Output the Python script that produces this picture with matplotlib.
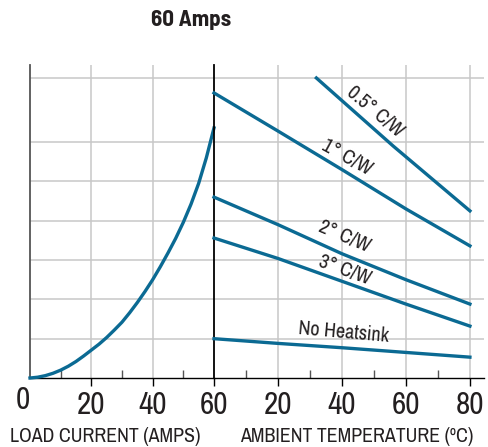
import matplotlib
matplotlib.use('Agg')
import matplotlib.pyplot as plt

plt.rcParams['font.family'] = ['Archivo Narrow', 'Roboto', 'DejaVu Sans']

# left panel: load current vs dissipation (arbitrary units, 1 unit = one grid row)
amps = [0, 2.5, 5, 7.5, 10, 12.5, 15, 17.5, 20, 22.5, 25, 27.5, 30, 32.5, 35,
        37.5, 40, 42.5, 45, 47.5, 50, 52.5, 55, 57.5, 60]
power = [0, 0.02, 0.06, 0.12, 0.2, 0.3, 0.42, 0.56, 0.71, 0.86, 1.03, 1.22,
         1.42, 1.66, 1.92, 2.2, 2.5, 2.83, 3.18, 3.55, 3.96, 4.42, 4.95, 5.6, 6.36]

# right panel: ambient temperature vs allowed dissipation
temps = [0, 20, 40, 60, 80]
half_x = [32, 56, 80]
half_y = [7.63, 5.9, 4.25]
one_cw = [7.25, 6.28, 5.3, 4.3, 3.36]
two_cw = [4.6, 3.9, 3.16, 2.5, 1.88]
three_cw = [3.56, 3.04, 2.46, 1.88, 1.32]
no_sink = [1.0, 0.88, 0.77, 0.65, 0.53]

grid_y = [1, 2, 3, 4, 5, 6, 7.63]
labels = [('0.5\u00b0 C/W', 50.3, 6.77, -40),
          ('1\u00b0 C/W', 41.6, 5.6, -29),
          ('2\u00b0 C/W', 40.9, 3.59, -23),
          ('3\u00b0 C/W', 40.9, 2.75, -20),
          ('No Heatsink', 40.5, 1.17, -5)]

blue = '#0b6a93'
gridc = '#c8c8c8'
textc = '#231f20'
W, H = 488, 447

fig = plt.figure(figsize=(W / 100, H / 100), dpi=100)
ymax = 7.96
axl = fig.add_axes([30 / W, (H - 378) / H, 184 / W, 313 / H])
axr = fig.add_axes([214 / W, (H - 378) / H, 270 / W, 313 / H])

for ax in (axl, axr):
    ax.set_ylim(0, ymax)
    ax.set_yticks([])
    for g in grid_y:
        ax.axhline(g, color=gridc, lw=1.1, zorder=0)
    ax.spines['top'].set_visible(False)
    ax.spines['right'].set_visible(False)
    ax.spines['bottom'].set_color('black')
    ax.spines['bottom'].set_linewidth(1.0)
    ax.set_facecolor('none')
    ax.tick_params(axis='x', which='major', direction='out', length=6,
                   width=1.0, color='black', labelsize=22.5, labelcolor=textc, pad=3)
    ax.tick_params(axis='x', which='minor', direction='in', length=6,
                   width=1.0, color='#555555')

axl.set_xlim(0, 60)
axl.spines['left'].set_color('#555555')
axl.spines['left'].set_linewidth(1.3)
for gx in [20, 40]:
    axl.axvline(gx, color=gridc, lw=1.1, zorder=0)
axl.set_xticks([20, 40, 60])
axl.set_xticks([10, 30, 50], minor=True)
axl.text(-2.3, -0.2, '0', ha='center', va='top', fontsize=22.5, color=textc)
axl.plot(amps, power, color=blue, lw=2.4, clip_on=False, zorder=3)

axr.set_xlim(0, 84.4)
axr.spines['left'].set_color('black')
axr.spines['left'].set_linewidth(1.3)
for gx in [20, 40, 60, 80]:
    axr.axvline(gx, color=gridc, lw=1.1, zorder=0)
axr.set_xticks([20, 40, 60, 80])
axr.set_xticks([10, 30, 50, 70], minor=True)

axr.plot(half_x, half_y, color=blue, lw=2.4, zorder=3)
for series in (one_cw, two_cw, three_cw, no_sink):
    axr.plot(temps, series, color=blue, lw=2.4, zorder=3, clip_on=False)
for txt, x, y, rot in labels:
    axr.text(x, y, txt, ha='center', va='center', rotation=rot,
             rotation_mode='anchor', fontsize=14.5, color=textc)

fig.text(191 / W, 1 - 20 / H, '60 Amps', ha='center', va='center',
         fontsize=16.5, fontweight='bold', color=textc,
         family=['Barlow Semi Condensed', 'Archivo Narrow', 'DejaVu Sans'])
fig.text(105 / W, 1 - 437 / H, 'LOAD CURRENT (AMPS)', ha='center', va='center',
         fontsize=14.3, color=textc)
fig.text(357 / W, 1 - 437 / H, 'AMBIENT TEMPERATURE (\u00baC)', ha='center',
         va='center', fontsize=14.3, color=textc)

fig.savefig('out.png', dpi=100)
